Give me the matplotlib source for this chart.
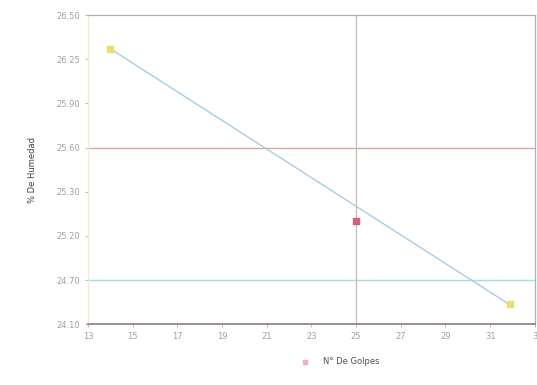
import numpy as np
import matplotlib.pyplot as plt

# golpes vs humedad (limite liquido)
golpes = [14.0, 25.0, 31.9]
humedad = [26.27, 25.10, 24.54]
trend_x = [14.0, 31.9]
trend_y = [26.27, 24.53]

x_ticks = [13, 15, 17, 19, 21, 23, 25, 27, 29, 31, 33]
x_labels = ["13", "15", "17", "19", "21", "23", "25", "27", "29", "31", "3"]
y_ticks = [24.40, 24.70, 25.00, 25.30, 25.60, 25.90, 26.20, 26.50]
y_labels = ["24.10", "24.70", "25.20", "25.30", "25.60", "25.90", "26.25", "26.50"]

fig = plt.figure(figsize=(5.37, 3.85), dpi=100)
ax = fig.add_axes([0.164, 0.158, 0.832, 0.803])

ax.set_xlim(13, 33)
ax.set_ylim(24.40, 26.50)

# lineas de referencia (colores del escaneo)
ax.axhline(25.60, color="#d8a8a0", lw=1.0)
ax.axhline(24.70, color="#9fe0e0", lw=1.0)
ax.axvline(25, color="#c8b8b8", lw=0.9)

ax.plot(trend_x, trend_y, color="#a8cce0", lw=1.0)
ax.scatter([golpes[0], golpes[2]], [humedad[0], humedad[2]], marker="s", s=14,
           color="#e8e070", zorder=3)
ax.scatter([golpes[1]], [humedad[1]], marker="s", s=14, color="#d06080", zorder=3)

for side in ["top", "right"]:
    ax.spines[side].set_color("#b0b0b0")
    ax.spines[side].set_linewidth(0.9)
ax.spines["left"].set_color("#f0ecd0")
ax.spines["bottom"].set_color("#a08080")
ax.spines["bottom"].set_linewidth(1.3)

ax.set_xticks(x_ticks)
ax.set_xticklabels(x_labels)
ax.set_yticks(y_ticks)
ax.set_yticklabels(y_labels)
ax.tick_params(labelsize=6, colors="#a0a0a0", length=2, width=0.5)

ax.set_ylabel("% De Humedad", fontsize=6, color="#404040", labelpad=14)

h = ax.scatter([], [], marker="s", s=10, color="#f0b0c0")
fig.legend([h], ["N° De Golpes"], loc="center", bbox_to_anchor=(0.63, 0.06),
           frameon=False, fontsize=6, labelcolor="#505050", handletextpad=1.2)

fig.savefig("out.png", dpi=100)
